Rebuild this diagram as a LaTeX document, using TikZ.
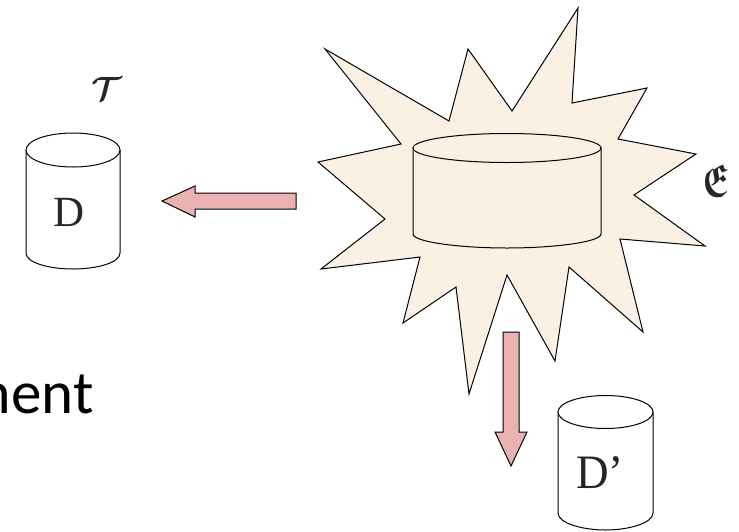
\documentclass[tikz,border=0pt]{standalone}
\usepackage{amsmath}
\usepackage{amssymb}
\usepackage{fontspec}
\setmainfont{Liberation Serif}
\setsansfont{Carlito}
\definecolor{blastfill}{RGB}{250,241,228}
\definecolor{arrowfill}{RGB}{233,178,176}
\tikzset{
  outline/.style={draw=black, line width=1pt, line join=miter},
  blockarrow/.style={outline, fill=arrowfill},
  dblabel/.style={font=\fontsize{43}{43}\selectfont, text=black!85},
  setlabel/.style={text=black!85, transform shape},
}
\begin{document}
\begin{tikzpicture}[x=1pt, y=-1pt]
  \useasboundingbox (0,0) rectangle (739,531);
  % blast
  \draw[outline, fill=blastfill] (325,49) -- (449,121) -- (468,49) -- (512,111) -- (578,8)
    -- (572,103) -- (647,88) -- (618,139) -- (696,154) -- (634,195) -- (705,246)
    -- (620,239) -- (643,332) -- (569,267) -- (555,361) -- (507,275) -- (469,394)
    -- (456,287) -- (403,323) -- (420,257) -- (321,269) -- (385,219) -- (318,162)
    -- (401,144) -- cycle;
  % drum inside the blast
  \draw[outline] (413,148) -- (413,234) .. controls (413,242) and (460,248) .. (507,248)
    .. controls (554,248) and (601,242) .. (601,234) -- (601,148);
  \draw[outline] (507,148) ellipse[x radius=94, y radius=14.5];
  % left drum
  \draw[outline, fill=white] (26,150) -- (26,253) .. controls (26,263) and (50,269) .. (73,269)
    .. controls (96,269) and (120,263) .. (120,253) -- (120,150);
  \draw[outline, fill=white] (73,150) ellipse[x radius=47, y radius=17];
  % lower drum
  \draw[outline, fill=white] (558,412) -- (558,513) .. controls (558,523) and (582,530) .. (605.5,530)
    .. controls (629,530) and (653,523) .. (653,513) -- (653,412);
  \draw[outline, fill=white] (605.5,412) ellipse[x radius=47.5, y radius=16.5];
  % arrows
  \draw[blockarrow] (296,193) -- (195,193) -- (195,186) -- (162,201) -- (195,217) -- (195,209) -- (296,209) -- cycle;
  \draw[blockarrow] (503,332) -- (519,332) -- (519,432) -- (527,432) -- (511,466) -- (495,432) -- (503,432) -- cycle;
  % labels
  \node[dblabel] (dbd) at (69,212) {D};
  \node[font=\fontsize{48}{48}\selectfont, text=black!85, transform shape, xscale=0.94] (dbdp) at (600,473) {D’};
  \node[setlabel, font=\fontsize{25}{25}\selectfont, scale=1.35] (tset) at (107,89) {$\boldsymbol{\mathcal{T}}$};
  \node[setlabel, font=\fontsize{40}{40}\selectfont, xscale=0.85, yscale=1.15] (eset) at (716,181) {$\boldsymbol{\mathfrak{E}}$};
  \node[font=\sffamily\fontsize{61}{61}\selectfont, anchor=base east, inner sep=0pt] (word) at (94,413) {ment};
\end{tikzpicture}
\end{document}
